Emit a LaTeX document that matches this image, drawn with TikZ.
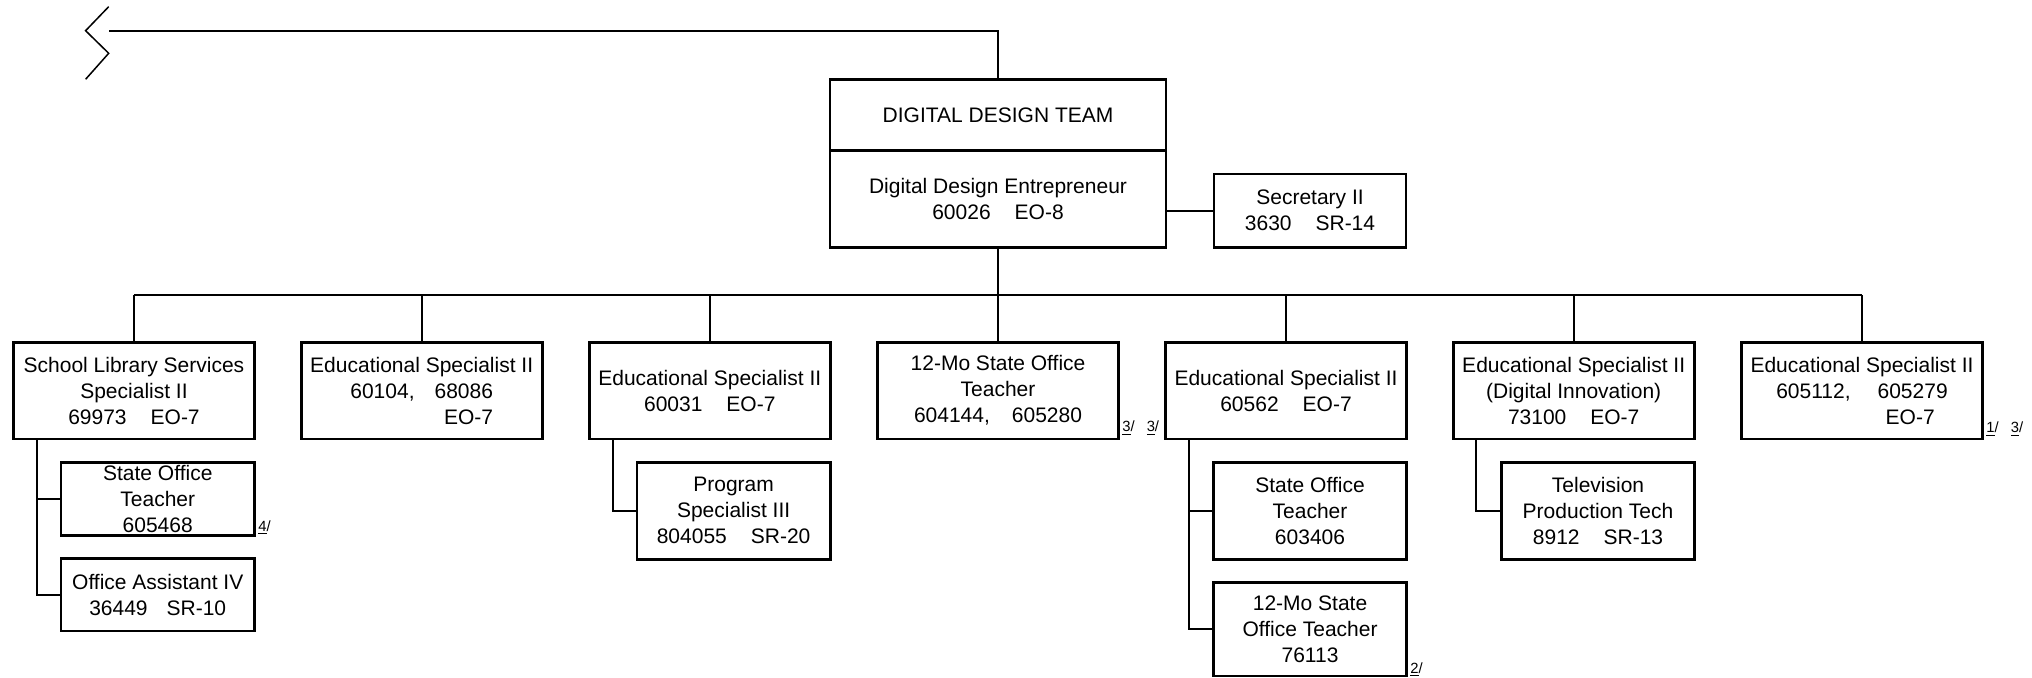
\documentclass[tikz,border=0pt]{standalone}
\usepackage{fontspec}
\setmainfont{Liberation Sans}
\newcommand\gp{\hspace{12pt}}
\begin{document}
\begin{tikzpicture}[x=0.5pt,y=-0.5pt,
  box/.style={draw, line width=1.3pt, rectangle, inner sep=0pt, align=center, font=\fontsize{10.5}{13}\selectfont},
  lone/.style={box, minimum width=120.5pt, minimum height=48.4pt},
  subb/.style={box, minimum width=96.75pt},
  conn/.style={line width=1pt},
  note/.style={inner sep=0pt, anchor=base west, font=\fontsize{7.4}{9}\selectfont}]
\useasboundingbox (0,0) rectangle (2032,678);

% top
\node[box, minimum width=168pt, minimum height=35.7pt] (teamtop) at (998,115) {DIGITAL DESIGN TEAM};
\node[box, minimum width=168pt, minimum height=48.3pt] (teambot) at (998,199) {Digital Design Entrepreneur\\60026\gp EO-8};
\node[box, minimum width=96pt, minimum height=36.65pt] (sec) at (1310,210.7) {Secretary II\\3630\gp SR-14};

% level one
\node[lone] (b1) at (134,390.7) {School Library Services\\Specialist II\\69973\gp EO-7};
\node[lone] (b2) at (421.7,390.7) {Educational Specialist II\\60104,\hspace{10pt}68086\\\hphantom{60104,\hspace{10pt}68086}\llap{EO-7}};
\node[lone] (b3) at (709.8,390.7) {Educational Specialist II\\60031\gp EO-7};
\node[lone] (b4) at (998,390.7) {12-Mo State Office\\Teacher\\604144,\hspace{11pt}605280};
\node[lone] (b5) at (1286,390.7) {Educational Specialist II\\60562\gp EO-7};
\node[lone] (b6) at (1573.7,390.7) {Educational Specialist II\\(Digital Innovation)\\73100\gp EO-7};
\node[lone] (b7) at (1862,390.7) {Educational Specialist II\\605112,\hspace{13.5pt}605279\\\hphantom{605112,\hspace{13.5pt}605279}\llap{EO-7\hspace{6.5pt}}};

% sub boxes
\node[subb, minimum height=36.7pt] (sot1) at (157.75,499) {State Office\\Teacher\\605468};
\node[subb, minimum height=36.35pt] (oa) at (157.75,594.7) {Office Assistant IV\\36449\hspace{9.5pt}SR-10};
\node[subb, minimum height=48.5pt] (ps) at (733.6,510.8) {Program\\Specialist III\\804055\gp SR-20};
\node[subb, minimum height=48.5pt] (sot2) at (1310,510.8) {State Office\\Teacher\\603406};
\node[subb, minimum height=46.65pt] (mo12) at (1310,629.3) {12-Mo State\\Office Teacher\\76113};
\node[subb, minimum height=48.5pt] (tv) at (1598,510.8) {Television\\Production Tech\\8912\gp SR-13};

% notes
\node[note] (n4) at (258,531) {\underline{4}/};
\node[note] (n33) at (1122,431.5) {\underline{3}/\hspace{6pt}\underline{3}/};
\node[note] (n2) at (1410,673) {\underline{2}/};
\node[note] (n13) at (1986,432.5) {\underline{1}/\hspace{6pt}\underline{3}/};

% connectors
\coordinate (brk) at (108.7,30.7);
\draw[conn] (teamtop.north) |- (brk);
\draw[line width=0.75pt] (108.7,6.7) -- (85.6,30.7) -- (108.7,53.3) -- (85.6,79.3);
\draw[conn] (sec.west) -- (sec.west -| teambot.east);
\coordinate (busL) at (134,295);
\coordinate (busR) at (1862,295);
\draw[conn] (busL) -- (busR);
\draw[conn] (teambot.south) -- (teambot.south |- busL);
\foreach \b in {b1,b2,b3,b4,b5,b6,b7}{
  \draw[conn] (\b.north) -- (\b.north |- busL);
}
\draw[conn] (b1.south west) ++(24.5,0) |- (sot1.west);
\draw[conn] (b1.south west) ++(24.5,0) |- (oa.west);
\draw[conn] (b3.south west) ++(24.5,0) |- (ps.west);
\draw[conn] (b5.south west) ++(24.5,0) |- (sot2.west);
\draw[conn] (b5.south west) ++(24.5,0) |- (mo12.west);
\draw[conn] (b6.south west) ++(24.5,0) |- (tv.west);
\end{tikzpicture}
\end{document}
